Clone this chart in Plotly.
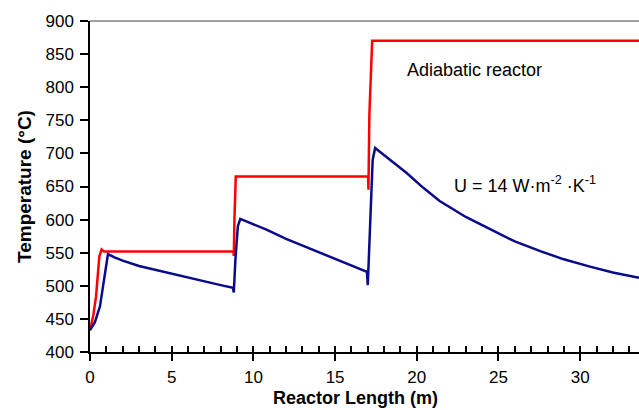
import plotly.graph_objects as go

# Adiabatic reactor (red)
red_x = [0, 0.2, 0.37, 0.57, 0.71, 0.85, 8.78, 8.8, 8.84, 8.92, 17.02, 17.04, 17.1, 17.27, 33.6]
red_y = [433, 455, 484, 544, 555, 552, 552, 545, 600, 665, 665, 645, 760, 870, 870]

# Cooled reactor U = 14 W m-2 K-1 (blue)
blue_x = [0, 0.3, 0.61, 0.92, 1.1, 1.5, 2, 3, 4, 5, 6, 7, 8, 8.75, 8.8,
          8.9, 9.05, 9.2, 10, 10.8, 12, 12.9, 14, 14.9, 16, 16.95, 17.0,
          17.15, 17.3, 17.45, 18, 18.7, 19.4, 20.4, 21.4, 23, 24.5, 26, 27.6,
          29, 30.6, 32, 33.6]
blue_y = [433, 445, 469, 519, 548, 543, 538, 530, 524, 519, 512, 506, 501, 497, 490,
          540, 590, 601, 593, 585, 571, 562, 550, 542, 530, 521, 501,
          600, 690, 708, 697, 684, 670, 648, 628, 604, 585, 567, 552,
          540, 529, 520, 512]

x_range = [0, 33.6]
y_range = [400, 900]

FONT = "Arial, Liberation Sans, sans-serif"

fig = go.Figure()
fig.add_trace(go.Scatter(x=red_x, y=red_y, mode="lines",
                         line=dict(color="#ff0000", width=2.5), showlegend=False))
fig.add_trace(go.Scatter(x=blue_x, y=blue_y, mode="lines",
                         line=dict(color="#0a0a8a", width=2.5), showlegend=False))
# dummy trace for overlay axis with inside minor ticks
fig.add_trace(go.Scatter(x=[None], y=[None], xaxis="x2", showlegend=False))

fig.update_layout(
    width=639, height=410,
    margin=dict(l=90, r=0, t=21, b=58),
    paper_bgcolor="white", plot_bgcolor="white",
    font=dict(family=FONT, color="black"),
    xaxis=dict(range=x_range, dtick=5, tick0=0, ticks="outside", ticklen=7,
               tickwidth=1.5, tickcolor="black", showline=True, linewidth=1.5,
               linecolor="black", showgrid=False, zeroline=False,
               tickfont=dict(size=17, family=FONT), ticklabelstandoff=2),
    xaxis2=dict(range=x_range, overlaying="x", anchor="y", side="bottom",
                dtick=1, tick0=0, ticks="inside", ticklen=6, tickwidth=1.5,
                tickcolor="black", showticklabels=False, showline=False,
                showgrid=False, zeroline=False),
    yaxis=dict(range=y_range, dtick=50, tick0=400, ticks="outside", ticklen=8,
               tickwidth=1.5, tickcolor="black", showline=True, linewidth=1.5,
               linecolor="black", showgrid=False, zeroline=False,
               tickfont=dict(size=17, family=FONT), ticklabelstandoff=3),
    shapes=[dict(type="line", xref="paper", yref="paper", x0=0, x1=1, y0=1, y1=1,
                 line=dict(color="#808080", width=1.5))],
    annotations=[
        dict(text="<b>Reactor Length (m)</b>", xref="paper", yref="paper",
             x=(355 - 90) / 549, y=(352 - 398) / 331, xanchor="center", yanchor="middle",
             showarrow=False, font=dict(size=18, family=FONT)),
        dict(text="<b>Temperature (°C)</b>", xref="paper", yref="paper",
             x=(24 - 90) / 549, y=(352 - 187) / 331, xanchor="center", yanchor="middle",
             textangle=-90, showarrow=False, font=dict(size=19, family=FONT)),
        dict(text="Adiabatic reactor", xref="paper", yref="paper",
             x=(405 - 90) / 549, y=(352 - 70) / 331, xanchor="left", yanchor="middle",
             showarrow=False, font=dict(size=18, family=FONT)),
        dict(text="U = 14 W·m<sup>-2</sup> ·K<sup>-1</sup>", xref="paper", yref="paper",
             x=(452 - 90) / 549, y=(352 - 184) / 331, xanchor="left", yanchor="middle",
             showarrow=False, font=dict(size=18, family=FONT)),
    ],
)

fig.write_html("out.html", config={"displayModeBar": False},
               post_script="document.body.style.margin='0';document.body.style.overflow='hidden';")
